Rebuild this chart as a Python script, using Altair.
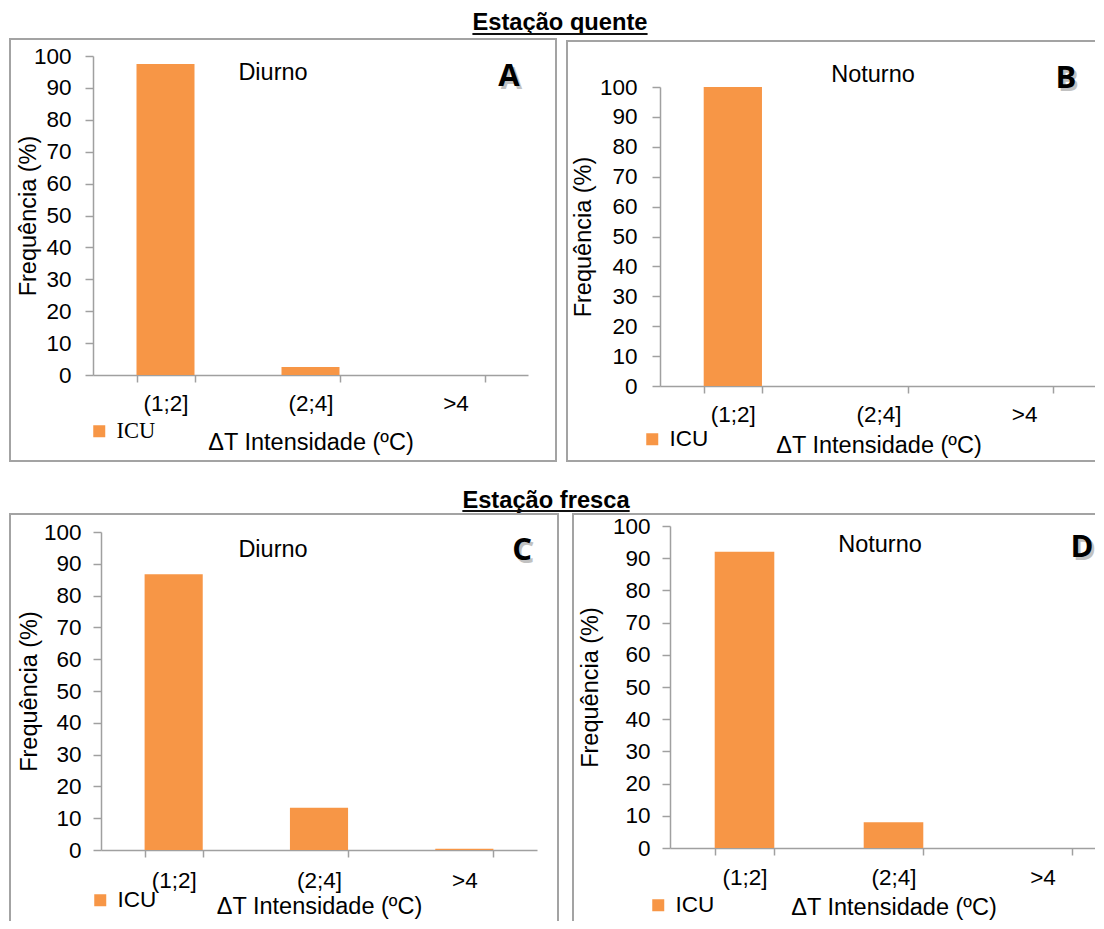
import altair as alt
import pandas as pd

# ---------------- data ----------------
CATEGORIES = ["(1;2]", "(2;4]", ">4"]
VALUES_A = [97.5, 2.5, 0.0]
VALUES_B = [100.0, 0.0, 0.0]
VALUES_C = [86.7, 13.3, 0.4]
VALUES_D = [92.0, 8.0, 0.0]
SERIES = ["ICU"]
PERIODS = ["Diurno", "Noturno", "Diurno", "Noturno"]
LETTERS = ["A", "B", "C", "D"]
SEASONS = ["Estação quente", "Estação fresca"]
Y_TICKS = [0, 10, 20, 30, 40, 50, 60, 70, 80, 90, 100]
Y_TITLE = "Frequência (%)"
X_TITLE = "ΔT Intensidade (ºC)"

# ---------------- style / layout ----------------
BAR_COLOR = "#F79646"
AXIS_COLOR = "#a0a0a0"
FRAME_COLOR = "#a3a3a3"
SANS = "Liberation Sans"
SERIF = "Liberation Serif"
LABEL_FS = 22.5
TEXT_FS = 23.5
TITLE_FS = 23.7

# Each panel's view is its whole frame; the plot region sits inside it.
LAYOUTS = [
    dict(Wf=548, Hf=424, px0=84, py0=18, W=435, H=319,
         sides=["top", "left", "right", "bottom"], top_y=1,
         ylp=14, ytp=-7.5, xlp=10, xtp=16, legend=(79, 382, SERIF),
         period=(264, 35.4), letter=(500, 39)),
    dict(Wf=537, Hf=424, px0=94, py0=49, W=437, H=299,
         sides=["top", "left", "bottom"], top_y=3,
         ylp=15, ytp=4, xlp=10, xtp=8, legend=(75, 390, SANS),
         period=(307, 37.4), letter=(500, 41)),
    dict(Wf=550, Hf=420, px0=92, py0=19, W=436, H=318,
         sides=["top", "left", "right"], top_y=1,
         ylp=12, ytp=1.5, xlp=12, xtp=3, legend=(80, 376, SANS),
         period=(264, 37.4), letter=(513, 38)),
    dict(Wf=532, Hf=420, px0=98, py0=13, W=447, H=322,
         sides=["top", "left"], top_y=1,
         ylp=12, ytp=9.5, xlp=11, xtp=7, legend=(75, 381, SANS),
         period=(308, 32.4), letter=(510, 35)),
]


def panel(values, period, letter, lay):
    df = pd.DataFrame({"cat": CATEGORIES, "val": values, "serie": SERIES * len(CATEGORIES)})
    one = pd.DataFrame({"k": [0]})
    Wf, Hf, px0, py0, W, H = lay["Wf"], lay["Hf"], lay["px0"], lay["py0"], lay["W"], lay["H"]

    lx, ly, lfont = lay["legend"]
    bars = alt.Chart(df).mark_bar().encode(
        x=alt.X("cat:N", sort=CATEGORIES,
                scale=alt.Scale(domain=CATEGORIES, paddingInner=0.6, paddingOuter=0.3,
                                range=[px0, px0 + W]),
                axis=alt.Axis(title=X_TITLE, labelAngle=0, tickBand="extent", tickSize=7,
                              labelPadding=lay["xlp"], titlePadding=lay["xtp"],
                              offset=-(Hf - py0 - H))),
        y=alt.Y("val:Q", scale=alt.Scale(domain=[0, 100], nice=False, range=[py0 + H, py0]),
                axis=alt.Axis(values=Y_TICKS, title=Y_TITLE, tickSize=8, offset=-px0,
                              labelPadding=lay["ylp"], titlePadding=lay["ytp"])),
        color=alt.Color("serie:N", scale=alt.Scale(domain=SERIES, range=[BAR_COLOR]),
                        legend=alt.Legend(orient="none", legendX=lx, legendY=ly, title=None,
                                          symbolType="square", symbolSize=144,
                                          symbolStrokeWidth=0, labelFont=lfont,
                                          labelFontSize=LABEL_FS, labelOffset=6,
                                          padding=0, labelColor="#000")),
    )

    layers = [bars]
    for side in lay["sides"]:
        r = alt.Chart(one).mark_rule(color=FRAME_COLOR, strokeWidth=2)
        if side == "top":
            r = r.encode(x=alt.value(0), x2=alt.value(Wf), y=alt.value(lay["top_y"]))
        elif side == "bottom":
            r = r.encode(x=alt.value(0), x2=alt.value(Wf), y=alt.value(Hf - 1))
        elif side == "left":
            r = r.encode(x=alt.value(1), y=alt.value(lay["top_y"]), y2=alt.value(Hf))
        else:
            r = r.encode(x=alt.value(Wf - 1), y=alt.value(lay["top_y"]), y2=alt.value(Hf))
        layers.append(r)

    tdf = pd.DataFrame({"t": [period]})
    px, py = lay["period"]
    ptxt = alt.Chart(tdf).mark_text(font=SANS, fontSize=TEXT_FS, color="#000",
                                    align="center", baseline="middle").encode(
        text="t:N", x=alt.value(px), y=alt.value(py))
    ldf = pd.DataFrame({"t": [letter]})
    qx, qy = lay["letter"]
    shadow = alt.Chart(ldf).mark_text(font="Open Sans", fontSize=31, fontWeight="bold",
                                      color="#777", opacity=0.45, align="center",
                                      baseline="middle").encode(
        text="t:N", x=alt.value(qx + 2.5), y=alt.value(qy + 2.5))
    ltxt = alt.Chart(ldf).mark_text(font="Open Sans", fontSize=31, fontWeight="bold",
                                    color="#000", align="center", baseline="middle").encode(
        text="t:N", x=alt.value(qx), y=alt.value(qy))
    layers += [ptxt, shadow, ltxt]
    return alt.layer(*layers).properties(width=Wf, height=Hf)


def title_chart(text, w, h, cx, base, half, ul_y):
    d = pd.DataFrame({"t": [text]})
    t = alt.Chart(d).mark_text(font=SANS, fontSize=TITLE_FS, fontWeight="bold", color="#000",
                               align="center", baseline="alphabetic").encode(
        text="t:N", x=alt.value(cx), y=alt.value(base))
    ul = alt.Chart(d).mark_rule(color="#111", strokeWidth=2).encode(
        x=alt.value(cx - half), x2=alt.value(cx + half), y=alt.value(ul_y))
    return alt.layer(t, ul).properties(width=w, height=h)


pA = panel(VALUES_A, PERIODS[0], LETTERS[0], LAYOUTS[0])
pB = panel(VALUES_B, PERIODS[1], LETTERS[1], LAYOUTS[1])
pC = panel(VALUES_C, PERIODS[2], LETTERS[2], LAYOUTS[2])
pD = panel(VALUES_D, PERIODS[3], LETTERS[3], LAYOUTS[3])

row1 = alt.hconcat(pA, pB, spacing=7).resolve_scale(color="independent").resolve_legend(color="independent")
row2 = alt.hconcat(pC, pD, spacing=11).resolve_scale(color="independent").resolve_legend(color="independent")

t1 = title_chart(SEASONS[0], 1080, 30, 551, 22, 7.391 * TITLE_FS / 2, 26)
t2 = title_chart(SEASONS[1], 1080, 50, 537, 45, 7.059 * TITLE_FS / 2, 48)

# negative right/bottom padding crops the open edges of panels B and D, as in the original
chart = (
    alt.vconcat(t1, row1, t2, row2, spacing=0)
    .resolve_scale(color="independent")
    .resolve_legend(color="independent")
    .properties(padding={"left": 0, "top": 0, "right": -10, "bottom": -13}, background="white")
    .configure_view(strokeWidth=0)
    .configure_axis(domainColor=AXIS_COLOR, tickColor=AXIS_COLOR, domainWidth=1.5,
                    tickWidth=1.5, labelFont=SANS, labelFontSize=LABEL_FS, labelColor="#000",
                    titleFont=SANS, titleFontSize=TEXT_FS, titleFontWeight="normal",
                    titleColor="#000", grid=False)
)

chart.save("out.html", embed_options={"renderer": "svg", "actions": False})
